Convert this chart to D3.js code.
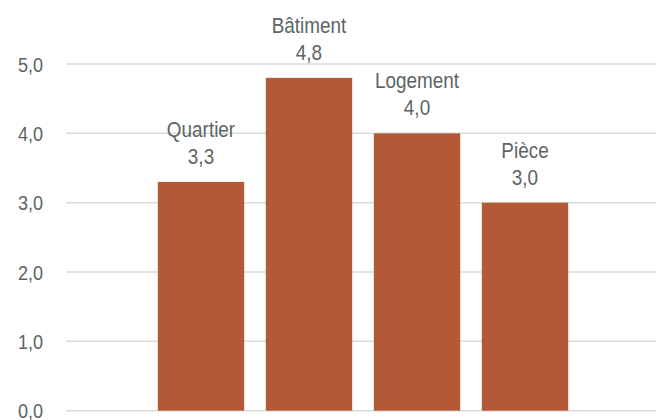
<!DOCTYPE html>
<html>
<head>
<meta charset="utf-8">
<script src="https://cdn.jsdelivr.net/npm/d3@7"></script>
<style>
  html, body { margin: 0; padding: 0; background: #fff; }
  svg { display: block; }
  text { font-family: "Liberation Sans", Arial, sans-serif; fill: #5b6664; }
</style>
</head>
<body>
<svg id="chart" width="656" height="420"></svg>
<script>
// Average score per level of the dwelling
const categories = ["Quartier", "Bâtiment", "Logement", "Pièce"];
const values = [3.3, 4.8, 4.0, 3.0];
const yTicks = [0, 1, 2, 3, 4, 5];

const width = 656, height = 420;
const narrow = 0.86; // horizontal squeeze to get a condensed look
const svg = d3.select("#chart");

const y = d3.scaleLinear().domain([0, 5]).range([410.7, 64]);
const x = d3.scaleBand()
  .domain(categories)
  .range([147, 579])
  .paddingInner(0.2)
  .paddingOuter(0.1);

const fmt = v => d3.format(".1f")(v).replace(".", ",");

// horizontal gridlines
svg.append("g")
  .selectAll("line")
  .data(yTicks)
  .join("line")
  .attr("x1", 66)
  .attr("x2", width)
  .attr("y1", d => y(d))
  .attr("y2", d => y(d))
  .attr("stroke", "#d9dddc")
  .attr("stroke-width", 1.5);

// y tick labels
svg.append("g")
  .selectAll("text")
  .data(yTicks)
  .join("text")
  .attr("transform", d => `translate(43,${y(d)}) scale(${narrow},1)`)
  .attr("dy", "0.36em")
  .attr("text-anchor", "end")
  .attr("font-size", 21)
  .text(d => fmt(d));

// bars
svg.append("g")
  .selectAll("rect")
  .data(categories)
  .join("rect")
  .attr("x", d => x(d))
  .attr("width", x.bandwidth())
  .attr("y", (d, i) => y(values[i]))
  .attr("height", (d, i) => y(0) - y(values[i]))
  .attr("fill", "#b35937");

// data labels: category name above the value
const labels = svg.append("g")
  .selectAll("g")
  .data(categories)
  .join("g")
  .attr("transform", (d, i) => `translate(${x(d) + x.bandwidth() / 2},${y(values[i])}) scale(${narrow},1)`);

labels.append("text")
  .attr("y", -45)
  .attr("text-anchor", "middle")
  .attr("font-size", 22)
  .text(d => d);

labels.append("text")
  .attr("y", -18)
  .attr("text-anchor", "middle")
  .attr("font-size", 22)
  .text((d, i) => fmt(values[i]));
</script>
</body>
</html>
